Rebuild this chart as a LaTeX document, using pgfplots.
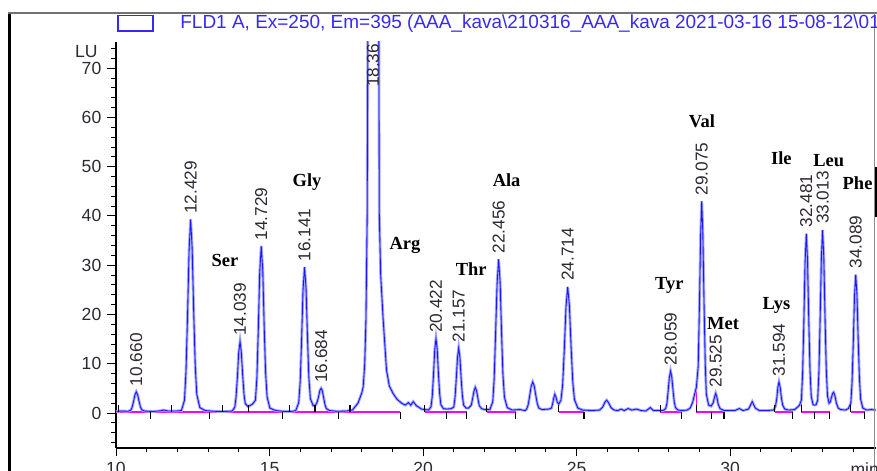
\documentclass[border=0pt]{standalone}
\usepackage{fontspec}
\setmainfont{Liberation Sans}
\newfontfamily\aafont{Liberation Serif}
\usepackage{pgfplots}
\usepackage{pgfplotstable}
\pgfplotsset{compat=1.18}

\definecolor{trace}{RGB}{25,25,245}
\definecolor{halo}{RGB}{165,165,255}
\definecolor{titleblue}{RGB}{55,40,250}
\definecolor{labelc}{RGB}{45,40,50}
\definecolor{intbase}{RGB}{250,0,250}

\tikzset{
  rt/.style={rotate=90, anchor=west, inner sep=0pt, font=\fontsize{9.8}{11}\selectfont, text=labelc},
  aa/.style={anchor=base, inner sep=0pt, font=\aafont\bfseries\fontsize{10.5}{12}\selectfont}
}

% FLD signal (min, LU)
\pgfplotstableread{
t y
10.0 0.35
10.2 0.4
10.39 0.35
10.48 0.55
10.525 1.15
10.57 2.3
10.615 3.65
10.66 4.3
10.705 3.7
10.75 2.4
10.795 1.25
10.84 0.65
10.93 0.4
11.2 0.3
11.45 0.45
11.55 0.6
11.7 0.4
11.95 0.4
12.13 0.5
12.23 2.6
12.28 8.5
12.33 19.8
12.38 33.0
12.43 39.3
12.48 33.5
12.53 20.6
12.58 9.7
12.63 3.8
12.73 1.1
12.9 0.5
13.2 0.35
13.5 0.3
13.785 0.4
13.87 1.2
13.91 3.3
13.955 7.4
13.995 12.2
14.04 14.5
14.08 12.4
14.125 7.7
14.17 3.7
14.21 1.9
14.3 1.3
14.445 1.8
14.54 2.6
14.59 7.3
14.635 17.1
14.68 28.5
14.73 33.9
14.78 28.9
14.825 17.8
14.87 8.4
14.92 3.3
15.01 1.0
15.2 0.5
15.5 0.3
15.75 0.35
15.855 0.5
15.95 2.1
16.0 6.5
16.045 15.0
16.09 24.9
16.14 29.6
16.19 25.2
16.235 15.5
16.28 7.3
16.33 2.9
16.42 1.5
16.5 1.6
16.55 2.2
16.6 3.4
16.64 4.6
16.68 5.0
16.72 4.5
16.765 3.0
16.81 1.6
16.85 0.9
16.95 0.5
17.2 0.35
17.5 0.4
17.7 0.6
17.88 2.0
18.0 4.0
18.05 5.3
18.1 10.0
18.14 19.0
18.18 40.0
18.2 75.0
18.22 110.0
18.54 110.0
18.56 75.0
18.575 40.0
18.62 28.0
18.7 19.0
18.81 8.7
18.9 5.5
19.02 4.0
19.15 2.8
19.3 2.0
19.42 1.6
19.52 2.1
19.6 1.6
19.68 2.3
19.78 1.5
19.95 0.8
20.18 0.6
20.26 1.3
20.30 3.5
20.34 7.8
20.38 12.8
20.42 15.1
20.46 13.0
20.50 8.0
20.54 3.9
20.58 1.7
20.66 0.9
20.78 0.8
20.92 0.9
21.0 1.2
21.04 3.1
21.08 6.8
21.12 11.2
21.16 13.2
21.2 11.3
21.24 7.0
21.28 3.5
21.32 1.6
21.4 1.0
21.48 1.0
21.57 1.6
21.615 3.0
21.66 4.5
21.70 5.2
21.745 4.5
21.79 2.8
21.83 1.5
21.9 0.9
22.0 0.7
22.175 0.7
22.27 2.3
22.315 6.9
22.36 15.8
22.41 26.2
22.46 31.2
22.51 26.5
22.555 16.4
22.6 7.9
22.65 3.2
22.74 1.1
22.9 0.6
23.15 0.7
23.32 0.5
23.37 0.75
23.42 1.6
23.47 3.4
23.52 5.4
23.57 6.3
23.62 5.5
23.67 3.6
23.72 1.9
23.77 1.0
23.87 0.7
24.1 0.8
24.18 1.0
24.22 1.9
24.25 2.9
24.29 3.8
24.33 3.2
24.37 2.2
24.42 1.8
24.49 2.6
24.545 5.7
24.6 13.0
24.655 21.6
24.71 25.6
24.765 21.8
24.82 13.5
24.875 6.3
24.93 2.7
25.04 1.0
25.2 0.6
25.5 0.5
25.75 0.6
25.85 1.2
25.93 2.3
25.98 2.6
26.04 2.1
26.12 1.1
26.22 0.6
26.35 0.5
26.45 0.8
26.55 0.5
26.68 0.9
26.8 0.6
26.95 0.8
27.1 0.5
27.25 0.4
27.4 1.1
27.5 0.5
27.7 0.5
27.82 0.5
27.9 0.9
27.94 1.9
27.98 4.4
28.02 7.2
28.06 8.5
28.1 7.3
28.14 4.6
28.18 2.2
28.22 1.1
28.3 0.6
28.45 0.5
28.6 0.6
28.7 1.0
28.78 2.2
28.85 4.0
28.9 5.2
28.96 9.5
29.0 21.8
29.04 36.4
29.075 43.0
29.11 36.6
29.15 22.3
29.19 9.8
29.225 3.8
29.3 1.6
29.38 1.4
29.45 2.1
29.49 3.2
29.53 4.0
29.57 3.2
29.61 1.8
29.67 0.9
29.8 0.5
30.0 0.5
30.15 0.5
30.3 0.9
30.42 0.5
30.6 0.8
30.72 2.3
30.82 1.0
30.95 0.5
31.2 0.5
31.4 0.6
31.44 0.8
31.48 1.5
31.52 3.0
31.555 5.3
31.59 6.3
31.63 5.2
31.67 3.0
31.71 1.6
31.78 0.8
31.9 0.6
32.1 0.7
32.25 1.5
32.32 2.6
32.36 8.0
32.40 18.4
32.44 30.6
32.48 36.4
32.52 31.0
32.56 19.0
32.60 8.8
32.64 3.4
32.7 1.7
32.75 1.6
32.8 1.7
32.85 2.6
32.89 8.1
32.93 18.8
32.97 31.2
33.01 37.1
33.05 31.6
33.09 19.4
33.13 9.0
33.17 3.5
33.22 2.0
33.26 2.2
33.3 3.2
33.34 4.0
33.37 4.2
33.41 3.6
33.46 2.0
33.52 1.0
33.6 0.7
33.75 0.6
33.85 0.9
33.93 2.0
33.97 6.2
34.01 14.3
34.05 23.7
34.09 28.1
34.13 24.0
34.17 14.8
34.21 7.0
34.25 2.8
34.32 1.0
34.45 0.6
34.6 0.7
34.75 0.6
}\chrom

\begin{document}
\begin{tikzpicture}
\path[use as bounding box] (-2.32,-0.46) rectangle (15.22,8.96);
\clip (-2.32,-0.46) rectangle (15.22,8.96);

\begin{axis}[
    at={(0,0)}, anchor=south west, scale only axis,
    width=15.2cm, height=8.12cm,
    xmin=10, xmax=34.75, ymin=-7.1, ymax=75.3,
    axis x line=bottom, axis y line=left,
    axis line style={-, black, line width=0.6pt},
    xtick={10,15,20,25,30}, minor xtick={11,12,...,34},
    ytick={0,10,...,70}, minor ytick={-6,-4,...,74},
    tick align=outside, major tick length=0.17cm, minor tick length=0.09cm,
    tick style={black, line width=0.5pt},
    tick label style={font=\fontsize{10}{12}\selectfont, text=labelc},
    /pgf/number format/assume math mode=true,
]
% integration baselines
\addplot[intbase, line width=0.9pt] coordinates {(10.0,0.2) (19.25,0.2)};
\addplot[intbase, line width=0.9pt] coordinates {(20.06,0.2) (21.42,0.2)};
\addplot[intbase, line width=0.9pt] coordinates {(22.07,0.2) (23.02,0.2)};
\addplot[intbase, line width=0.9pt] coordinates {(24.42,0.2) (25.24,0.2)};
\addplot[intbase, line width=0.9pt] coordinates {(27.73,0.2) (28.43,0.2)};
\addplot[intbase, line width=0.9pt] coordinates {(28.9,0.2) (29.8,0.2)};
\addplot[intbase, line width=0.9pt] coordinates {(31.45,0.2) (32.04,0.2)};
\addplot[intbase, line width=0.9pt] coordinates {(32.32,0.2) (33.24,0.2)};
\addplot[intbase, line width=0.9pt] coordinates {(33.92,0.2) (34.38,0.2)};
% drop lines
\addplot[intbase, line width=0.8pt] coordinates {(14.31,0.2) (14.31,1.3)};
\addplot[intbase, line width=0.8pt] coordinates {(16.48,0.2) (16.48,1.6)};
\addplot[intbase, line width=0.8pt] coordinates {(28.9,0.2) (28.9,5.0)};
\addplot[intbase, line width=0.8pt] coordinates {(32.32,0.2) (32.32,2.6)};
\addplot[intbase, line width=0.8pt] coordinates {(33.92,0.2) (33.92,2.0)};
% trace
\addplot[halo, line width=1.6pt] table[x=t, y=y] {\chrom};
\addplot[trace, line width=0.5pt] table[x=t, y=y] {\chrom};
% peak start / end ticks
\addplot[only marks, mark=|, mark size=2pt, mark options={black, line width=0.6pt}] coordinates {
  (10.08,0.9) (11.81,0.9) (13.47,0.9) (14.31,0.9) (15.66,0.9) (16.48,0.9) (17.62,0.9)
  (20.06,0.9) (22.07,0.9) (24.42,0.9) (27.73,0.9) (28.9,0.9) (31.45,0.9) (32.32,0.9) (33.92,0.9)};
\addplot[only marks, mark=|, mark size=2pt, mark options={black, line width=0.6pt}] coordinates {
  (11.13,-0.5) (13.06,-0.5) (15.43,-0.5) (17.24,-0.5) (19.25,-0.5) (20.76,-0.5) (21.42,-0.5)
  (23.02,-0.5) (25.24,-0.5) (28.43,-0.5) (29.39,-0.5) (29.8,-0.5) (32.04,-0.5) (32.75,-0.5)
  (33.24,-0.5) (34.38,-0.5)};

% retention times
\node[rt] at (axis cs:10.66,5.4) {10.660};
\node[rt] at (axis cs:12.43,40.4) {12.429};
\node[rt] at (axis cs:14.04,15.6) {14.039};
\node[rt] at (axis cs:14.73,35.0) {14.729};
\node[rt] at (axis cs:16.14,30.7) {16.141};
\node[rt] at (axis cs:16.68,6.1) {16.684};
\node[rt] at (axis cs:18.37,66.1) {18.36};
\node[rt] at (axis cs:20.42,16.2) {20.422};
\node[rt] at (axis cs:21.16,14.3) {21.157};
\node[rt] at (axis cs:22.46,32.3) {22.456};
\node[rt] at (axis cs:24.71,26.8) {24.714};
\node[rt] at (axis cs:28.06,9.6) {28.059};
\node[rt] at (axis cs:29.075,44.1) {29.075};
\node[rt] at (axis cs:29.53,5.1) {29.525};
\node[rt] at (axis cs:31.59,7.4) {31.594};
\node[rt] at (axis cs:32.48,37.6) {32.481};
\node[rt] at (axis cs:33.01,38.3) {33.013};
\node[rt] at (axis cs:34.09,29.3) {34.089};

% amino acids
\node[aa] at (axis cs:13.55,29.8) {Ser};
\node[aa] at (axis cs:16.22,46.0) {Gly};
\node[aa] at (axis cs:19.41,33.2) {Arg};
\node[aa] at (axis cs:21.57,27.9) {Thr};
\node[aa] at (axis cs:22.72,46.0) {Ala};
\node[aa] at (axis cs:28.02,25.0) {Tyr};
\node[aa] at (axis cs:29.08,57.9) {Val};
\node[aa] at (axis cs:29.77,16.9) {Met};
\node[aa] at (axis cs:31.51,21.0) {Lys};
\node[aa] at (axis cs:31.67,50.5) {Ile};
\node[aa] at (axis cs:33.21,50.1) {Leu};
\node[aa] at (axis cs:34.15,45.4) {Phe};
\end{axis}

% pixel frame for the window decorations
\begin{scope}[shift={(-2.32cm,8.96cm)}, x=0.02cm, y=-0.02cm]
  \draw[black, line width=0.06cm] (9,13) -- (9,471);
  \draw[black!55, line width=0.04cm] (8,13) -- (877,13);
  \draw[black!45, line width=0.02cm] (874.5,13) -- (874.5,471);
  \draw[black, line width=0.06cm] (876,167) -- (876,217);
  \draw[titleblue, line width=0.03cm] (118,15.5) rectangle (153,31);
  \node[anchor=base west, inner sep=0pt, text=titleblue, font=\fontsize{10.8}{12}\selectfont]
    at (180,28.5) {FLD1 A, Ex=250, Em=395 (AAA\_kava\textbackslash 210316\_AAA\_kava 2021-03-16 15-08-12\textbackslash 01};
  \node[anchor=east, inner sep=0pt, text=labelc, font=\fontsize{10}{12}\selectfont] at (98,52) {LU};
  \node[anchor=north west, inner sep=0pt, text=labelc, font=\fontsize{10}{12}\selectfont] at (850,462) {min};
\end{scope}
\end{tikzpicture}
\end{document}
